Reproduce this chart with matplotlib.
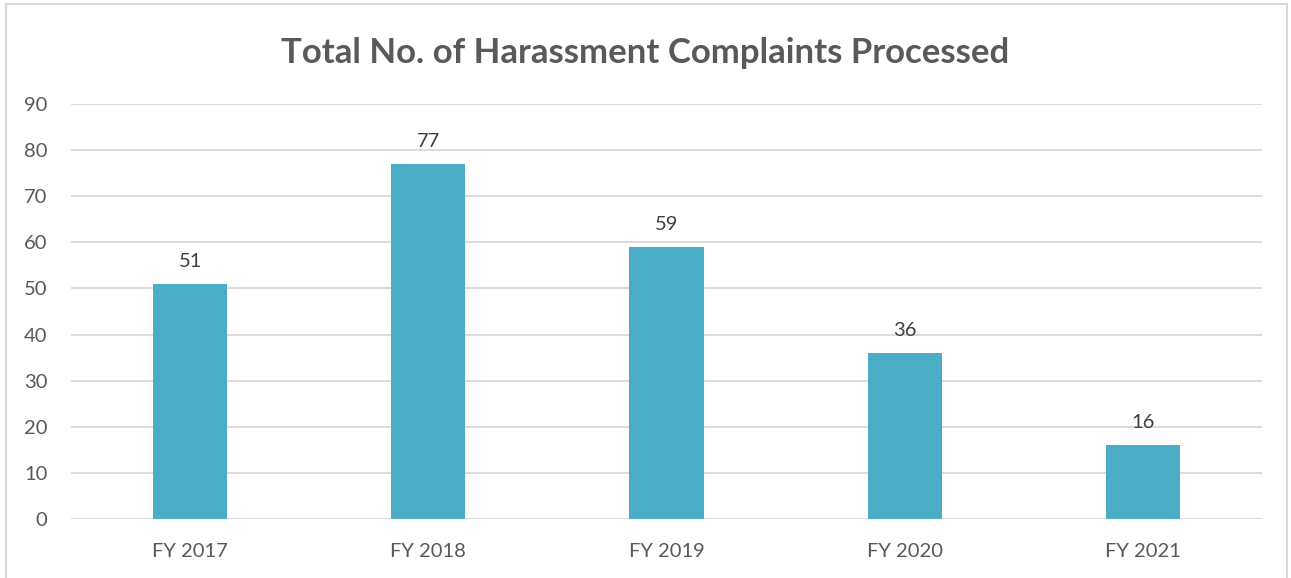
import matplotlib.pyplot as plt
from matplotlib.patches import Rectangle

# chart data
years = ["FY 2017", "FY 2018", "FY 2019", "FY 2020", "FY 2021"]
complaints = [51, 77, 59, 36, 16]
y_ticks = [0, 10, 20, 30, 40, 50, 60, 70, 80, 90]

text_color = "#595959"
bar_color = "#4BACC6"
grid_color = "#D9D9D9"

plt.rcParams['font.family'] = ['Lato', 'DejaVu Sans']

fig = plt.figure(figsize=(12.91, 5.78), dpi=100)
ax = fig.add_axes([0.055, 0.102, 0.9225, 0.718])

# bars and value labels
bars = ax.bar(range(len(years)), complaints, width=0.312, color=bar_color, zorder=3)
for bar, value in zip(bars, complaints):
    ax.annotate(str(value), (bar.get_x() + bar.get_width() / 2, value),
                xytext=(0, 10), textcoords="offset points",
                ha="center", va="bottom", fontsize=14.5, color="#404040")

ax.set_xlim(-0.5, len(years) - 0.5)
ax.set_ylim(0, 90)
ax.set_yticks(y_ticks)
ax.set_xticks(range(len(years)))
ax.set_xticklabels(years)
ax.tick_params(axis="both", length=0, labelsize=14.5, labelcolor=text_color)
ax.tick_params(axis="y", pad=17)
ax.tick_params(axis="x", pad=17)

ax.grid(axis="y", color=grid_color, linewidth=1.3, zorder=0)
for spine in ax.spines.values():
    spine.set_visible(False)

fig.text(0.5, 0.908, "Total No. of Harassment Complaints Processed",
         ha="center", va="center", fontsize=25, fontweight="bold", color=text_color)

# light border round the chart
fig.patches.append(Rectangle((0.005, -0.05), 0.992, 1.043, transform=fig.transFigure,
                             fill=False, edgecolor="#D9D9D9", linewidth=1.5))

plt.savefig("out.png", dpi=100)
